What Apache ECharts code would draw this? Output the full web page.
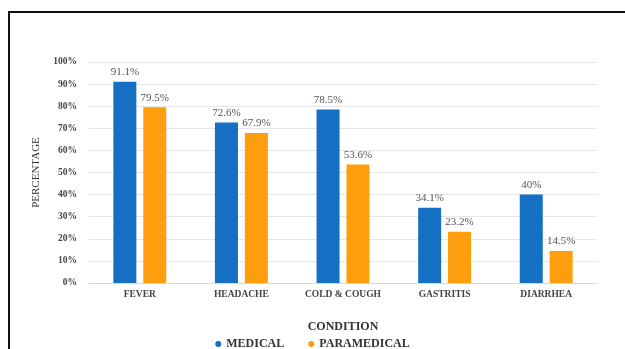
<!DOCTYPE html>
<html>
<head>
<meta charset="utf-8">
<script src="https://cdn.jsdelivr.net/npm/echarts@6/dist/echarts.min.js"></script>
<style>html,body{margin:0;padding:0;background:#fff;}#c{width:625px;height:349px;}</style>
</head>
<body>
<div id="c"></div>
<script>
var categories = ['FEVER', 'HEADACHE', 'COLD & COUGH', 'GASTRITIS', 'DIARRHEA'];
var medical = [91.1, 72.6, 78.5, 34.1, 40];
var paramedical = [79.5, 67.9, 53.6, 23.2, 14.5];
var medicalLabels = ['91.1%', '72.6%', '78.5%', '34.1%', '40%'];
var paramedicalLabels = ['79.5%', '67.9%', '53.6%', '23.2%', '14.5%'];
var yTicks = [0, 10, 20, 30, 40, 50, 60, 70, 80, 90, 100];

var serif = '"Liberation Serif", "DejaVu Serif", serif';
var chart = echarts.init(document.getElementById('c'), null, {renderer: 'canvas'});
chart.setOption({
  animation: false,
  backgroundColor: '#fff',
  graphic: [{
    type: 'polyline',
    shape: {points: [[9, 349], [9, 12], [625, 12]]},
    style: {stroke: '#111', lineWidth: 2, fill: null}
  }],
  grid: {left: 89, right: 28, top: 62, bottom: 66},
  legend: {
    top: 333, left: 'center',
    itemWidth: 6, itemHeight: 6, itemGap: 24,
    icon: 'circle',
    textStyle: {fontFamily: serif, fontWeight: 'bold', fontSize: 12, color: '#333'},
    data: ['MEDICAL', 'PARAMEDICAL']
  },
  xAxis: {
    type: 'category',
    data: categories,
    name: 'CONDITION',
    nameLocation: 'middle',
    nameGap: 38,
    nameTextStyle: {fontFamily: serif, fontWeight: 'bold', fontSize: 12, color: '#333'},
    axisLine: {lineStyle: {color: '#d9d9d9'}},
    axisTick: {show: false},
    axisLabel: {interval: 0, fontFamily: serif, fontWeight: 'bold', fontSize: 9.5, color: '#444', margin: 7}
  },
  yAxis: {
    type: 'value',
    min: yTicks[0], max: yTicks[yTicks.length - 1], interval: 10,
    name: 'PERCENTAGE',
    nameLocation: 'middle',
    nameGap: 47,
    nameTextStyle: {fontFamily: serif, fontSize: 11, color: '#333'},
    axisLabel: {formatter: '{value}%', fontFamily: serif, fontWeight: 'bold', fontSize: 9.5, color: '#444', margin: 12},
    axisLine: {show: false},
    axisTick: {show: false},
    splitLine: {lineStyle: {color: '#e6e6e6'}}
  },
  series: [{
    name: 'MEDICAL', type: 'bar', data: medical,
    barWidth: 23, barGap: '30%',
    itemStyle: {color: '#1570c4'},
    label: {show: true, position: 'top', distance: 4, fontFamily: serif, fontSize: 11, color: '#555',
      formatter: function (p) { return medicalLabels[p.dataIndex]; }}
  }, {
    name: 'PARAMEDICAL', type: 'bar', data: paramedical,
    barWidth: 23,
    itemStyle: {color: '#ff9e0d'},
    label: {show: true, position: 'top', distance: 4, fontFamily: serif, fontSize: 11, color: '#555',
      formatter: function (p) { return paramedicalLabels[p.dataIndex]; }}
  }]
});
</script>
</body>
</html>
